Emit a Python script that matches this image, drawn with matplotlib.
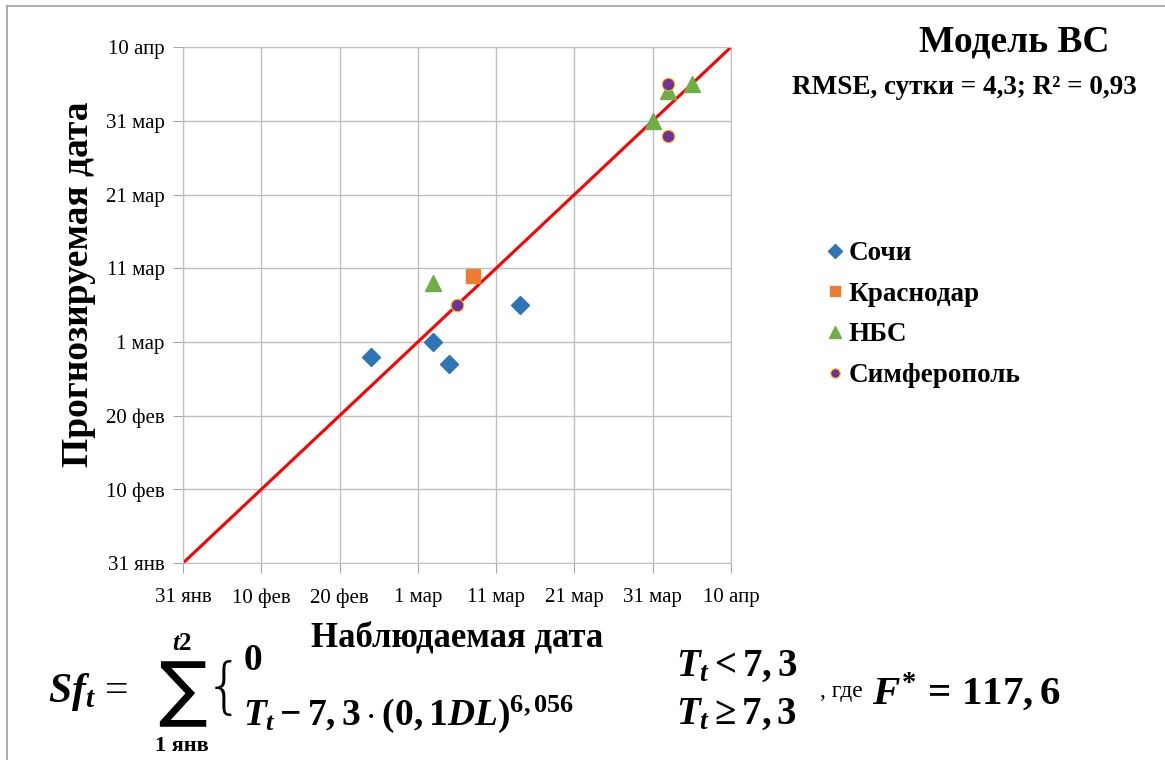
import matplotlib.pyplot as plt
from matplotlib.lines import Line2D

plt.rcParams['font.family'] = ['Liberation Serif', 'DejaVu Serif']
plt.rcParams['mathtext.fontset'] = 'custom'
plt.rcParams['mathtext.rm'] = 'Liberation Serif:bold'
plt.rcParams['mathtext.it'] = 'Liberation Serif:italic:bold'
plt.rcParams['mathtext.bf'] = 'Liberation Serif:bold'

# days counted from 31 Jan
tick_labels = ["31 янв", "10 фев", "20 фев", "1 мар", "11 мар", "21 мар", "31 мар", "10 апр"]
tick_days = [0, 10, 20, 30, 40, 50, 60, 70]

sochi_obs = [24, 32, 34, 43]
sochi_pred = [28, 30, 27, 35]
krasnodar_obs = [37]
krasnodar_pred = [39]
nbs_obs = [32, 60, 62, 65]
nbs_pred = [38, 60, 64, 65]
simf_obs = [35, 62, 62]
simf_pred = [35, 65, 58]

line_days = [0, 70]

fig = plt.figure(figsize=(11.65, 7.6), dpi=100)
ax = fig.add_axes([0.157, 0.259, 0.4705, 0.679])

ax.plot(line_days, line_days, color='#FF0000', lw=2.2, zorder=2)
ax.plot(sochi_obs, sochi_pred, 'D', ms=9.5, color='#2E75B6', ls='none', label='Сочи', zorder=3)
ax.plot(krasnodar_obs, krasnodar_pred, 's', ms=10, color='#ED7D31', ls='none', label='Краснодар', zorder=3)
ax.plot(nbs_obs, nbs_pred, '^', ms=11, color='#70AD47', ls='none', label='НБС', zorder=3)
ax.plot(simf_obs, simf_pred, 'o', ms=9, color='#7030A0', mec='#FFC000', mew=0.8,
        ls='none', label='Симферополь', zorder=4)

ax.set_xlim(0, 70)
ax.set_ylim(0, 70)
ax.set_xticks(tick_days)
ax.set_xticklabels(tick_labels, fontsize=15)
ax.set_yticks(tick_days)
ax.set_yticklabels(tick_labels, fontsize=15)
ax.grid(True, color='#BFBFBF', lw=1)
ax.set_axisbelow(True)
for s in ax.spines.values():
    s.set_color('#BFBFBF')
ax.tick_params(direction='out', length=7, color='#A6A6A6')
ax.tick_params(axis='x', pad=11)
ax.tick_params(axis='y', pad=6)

ax.set_xlabel('Наблюдаемая дата', fontsize=25, fontweight='bold', labelpad=10)
ax.set_ylabel('Прогнозируемая дата', fontsize=27, fontweight='bold')
ax.yaxis.set_label_coords(-0.158, 0.54)

fig.text(0.871, 0.945, 'Модель ВС', fontsize=27, fontweight='bold', ha='center', va='center')
fig.text(0.828, 0.885, 'RMSE, сутки = 4,3; R² = 0,93', fontsize=19.5, fontweight='bold',
         ha='center', va='center')

ax.legend(loc='center left', bbox_to_anchor=(0.685, 0.586), bbox_transform=fig.transFigure,
          frameon=False, prop={'size': 19.5, 'weight': 'bold'}, handletextpad=0.05,
          handlelength=0.9, labelspacing=0.58, markerscale=0.75)

# formula
def px(x, y):
    return x / 1165, 1 - y / 760

fig.text(*px(48, 692), r'$Sf_t$ =', fontsize=30, va='center', ha='left')
fig.text(*px(182, 694), '∑', fontsize=52, va='center', ha='center', family='DejaVu Sans')
fig.text(*px(182, 643), r'$t$2', fontsize=18, va='center', ha='center', fontweight='bold')
fig.text(*px(182, 746), '1 янв', fontsize=16, va='center', ha='center', fontweight='bold')
fig.text(*px(224, 690), '{', fontsize=44, va='center', ha='center', family='DejaVu Sans', fontweight='light')
fig.text(*px(243, 661), r'$0$', fontsize=27, va='center', ha='left')
fig.text(*px(243, 714), r'$T_t - 7,3 \cdot (0,1DL)^{6,056}$', fontsize=27, va='center', ha='left')
fig.text(*px(676, 666), r'$T_t < 7,3$', fontsize=28, va='center', ha='left')
fig.text(*px(676, 714), r'$T_t \geq 7,3$', fontsize=28, va='center', ha='left')
fig.text(*px(820, 692), ', где', fontsize=17, va='center', ha='left')
fig.text(*px(872, 692), r'$F^{*}$ = $117,6$', fontsize=29.5, va='center', ha='left', fontweight='bold')

fig.add_artist(Line2D([0.006, 0.006], [0, 0.992], transform=fig.transFigure, color='#A0A0A0', lw=1.2))
fig.add_artist(Line2D([0.006, 1], [0.992, 0.992], transform=fig.transFigure, color='#A0A0A0', lw=1.2))

fig.savefig('out.png', dpi=100)
